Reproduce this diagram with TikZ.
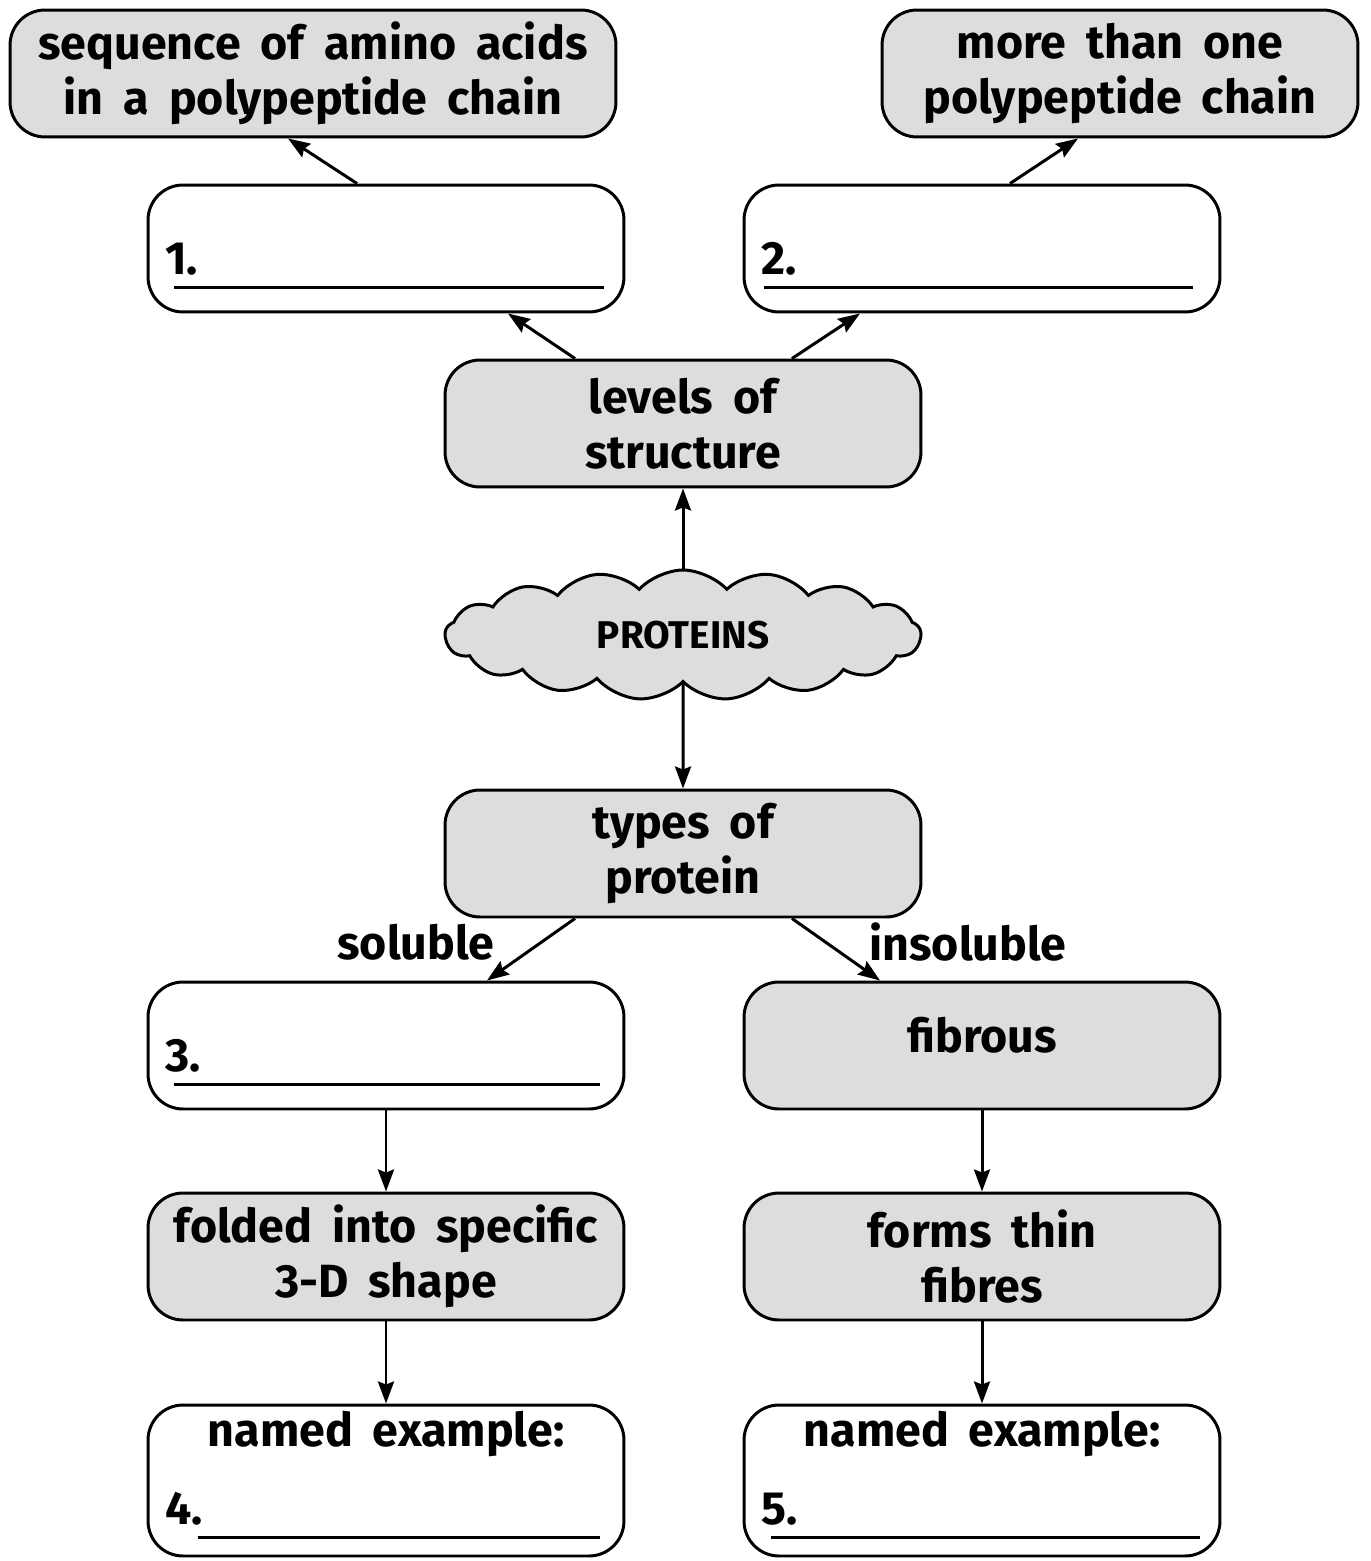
\documentclass[tikz,border=0pt]{standalone}
\usepackage{fontspec}
\setmainfont[WordSpace=1.8]{Fira Sans}
\usetikzlibrary{arrows.meta,shapes.symbols,calc}

\begin{document}
\begin{tikzpicture}[x=0.02cm,y=-0.02cm, line width=1.7pt,
  box/.style={draw,rounded corners=0.7cm,minimum width=9.52cm,minimum height=2.54cm,
    align=center,inner sep=0pt,font=\fontsize{26.5}{31.5}\selectfont\bfseries},
  graybox/.style={box,fill=boxgray},
  whitebox/.style={box,fill=white},
  numlab/.style={anchor=base west,inner sep=0pt,font=\fontsize{26.5}{31.5}\selectfont\bfseries},
  arr/.style={-{Stealth[length=0.44cm,width=0.32cm,inset=0.06cm]}},
  lbl/.style={font=\fontsize{26.5}{31.5}\selectfont\bfseries,inner sep=0pt}]
  \definecolor{boxgray}{RGB}{220,221,223}
  \useasboundingbox (0,0) rectangle (1370,1561);
        % top row
        \node[graybox,minimum width=12.12cm] (seq) at (313,73.5) {sequence of amino acids\\in a polypeptide chain};
        \node[graybox] (more) at (1120,73.5) {more than one\\polypeptide chain};
        \node[whitebox] (b1) at (386,248.5) {};
        \node[whitebox] (b2) at (982,248.5) {};
        \node[graybox] (levels) at (683,423.5) {levels of\\structure};
        \node[draw,fill=boxgray,cloud,cloud puffs=17,cloud puff arc=95,aspect=3.66,
              minimum width=9.52cm,minimum height=2.6cm,inner sep=0pt,
              font=\fontsize{22}{26}\selectfont\bfseries] (prot) at (683,635) {PROTEINS};
        \node[graybox] (types) at (683,853.5) {types of\\protein};
        % bottom rows
        \node[whitebox] (b3) at (386,1045.5) {};
        \node[graybox] (fib) at (982,1045.5) {};
        \node[lbl] at ($(fib.center)+(0,0.2cm)$) {fibrous};
        \node[graybox] (fold) at (386,1256.5) {folded into specific\\3-D shape};
        \node[graybox] (thin) at (982,1256.5) {forms thin\\fibres};
        \node[whitebox,minimum height=3.02cm] (b4) at (386,1480.5) {};
        \node[whitebox,minimum height=3.02cm] (b5) at (982,1480.5) {};
        \node[lbl] at ($(b4.north)+(0,-0.6cm)$) {named example:};
        \node[lbl] at ($(b5.north)+(0,-0.6cm)$) {named example:};
        % numbers and blanks
        \node[numlab] at ([xshift=0.34cm,yshift=0.78cm]b1.south west) {1.};
        \node[numlab] at ([xshift=0.34cm,yshift=0.78cm]b2.south west) {2.};
        \node[numlab] at ([xshift=0.34cm,yshift=0.78cm]b3.south west) {3.};
        \node[numlab] at ([xshift=0.34cm,yshift=0.66cm]b4.south west) {4.};
        \node[numlab] at ([xshift=0.34cm,yshift=0.66cm]b5.south west) {5.};
        \draw ([xshift=0.54cm,yshift=0.52cm]b1.south west) -- ([xshift=-0.42cm,yshift=0.52cm]b1.south east);
        \draw ([xshift=0.42cm,yshift=0.52cm]b2.south west) -- ([xshift=-0.56cm,yshift=0.52cm]b2.south east);
        \draw ([xshift=0.54cm,yshift=0.52cm]b3.south west) -- ([xshift=-0.5cm,yshift=0.52cm]b3.south east);
        \draw ([xshift=1.02cm,yshift=0.4cm]b4.south west) -- ([xshift=-0.5cm,yshift=0.4cm]b4.south east);
        \draw ([xshift=0.56cm,yshift=0.4cm]b5.south west) -- ([xshift=-0.42cm,yshift=0.4cm]b5.south east);
        % connectors
        \draw[arr] ([xshift=-0.58cm]b1.north) -- ([xshift=-0.5cm]seq.south);
        \draw[arr] ([xshift=0.56cm]b2.north) -- ([xshift=-0.84cm]more.south);
        \draw[arr] ([xshift=-2.16cm]levels.north) -- ([xshift=2.44cm]b1.south);
        \draw[arr] ([xshift=2.18cm]levels.north) -- ([xshift=-2.44cm]b2.south);
        \draw[arr] (prot.north) -- (levels.south);
        \draw[arr] (prot.south) -- (types.north);
        \draw[arr] ([xshift=-2.16cm]types.south) -- ([xshift=2.02cm]b3.north);
        \draw[arr] ([xshift=2.18cm]types.south) -- ([xshift=-2.04cm]fib.north);
        \draw[arr] (b3) -- (fold);
        \draw[arr] (fib) -- (thin);
        \draw[arr] (fold) -- (b4);
        \draw[arr] (thin) -- (b5);
        \node[lbl] at (416,942) {soluble};
        \node[lbl] at (968,942) {insoluble};
      \end{tikzpicture}
\end{document}
